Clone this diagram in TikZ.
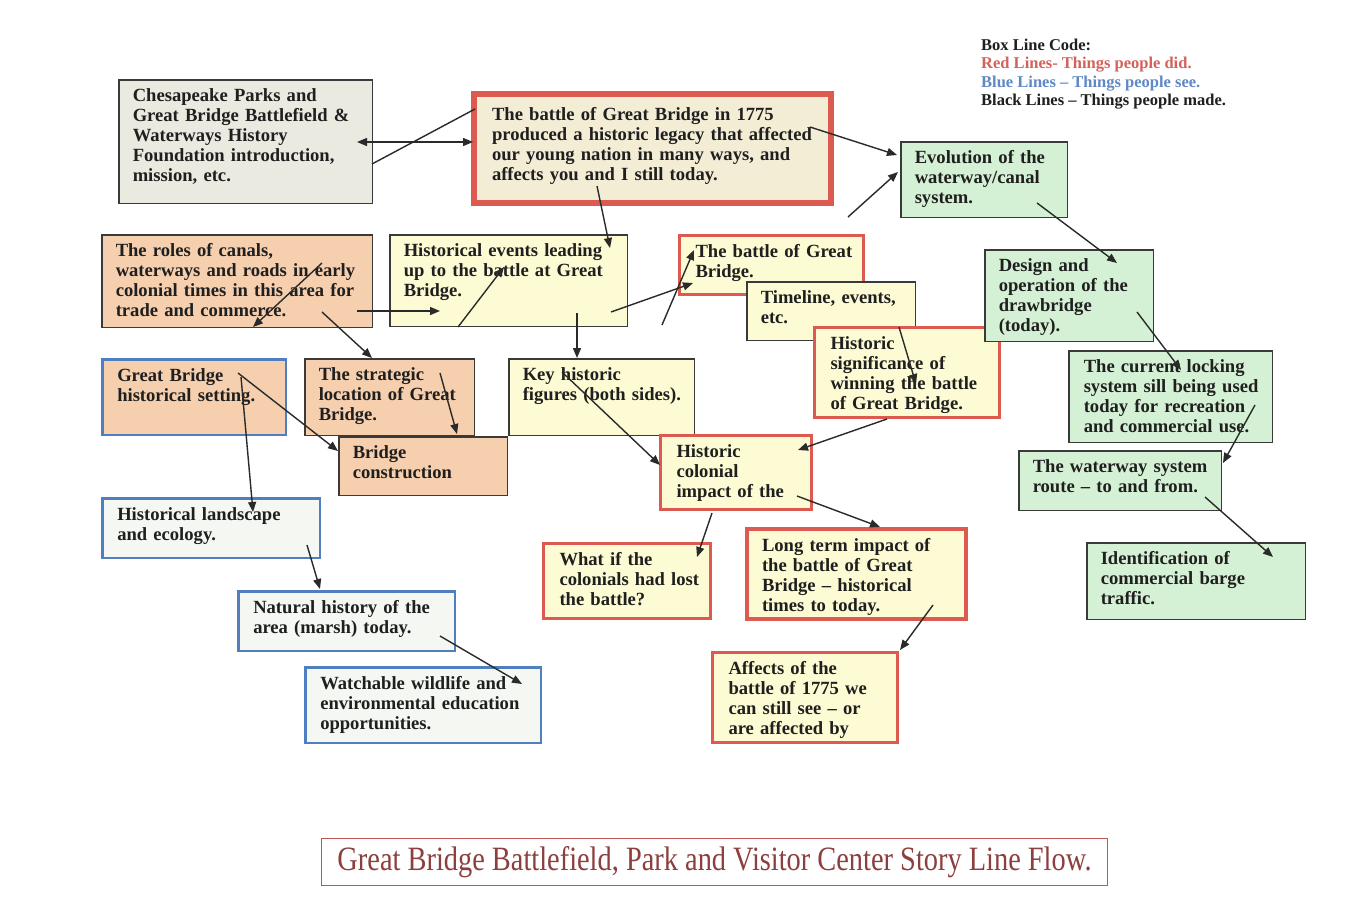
\documentclass[tikz,border=0pt]{standalone}
\usepackage{fontspec}
\setmainfont{Liberation Serif}
\usetikzlibrary{arrows.meta}
\definecolor{grayf}{HTML}{EBEAE0}
\definecolor{beigef}{HTML}{F3EDD6}
\definecolor{yelf}{HTML}{FDFBD3}
\definecolor{oranf}{HTML}{F6CFAE}
\definecolor{greenf}{HTML}{D5F1D5}
\definecolor{paleb}{HTML}{F4F7F2}
\definecolor{blkc}{HTML}{3A3A3A}
\definecolor{redc}{HTML}{DC5A50}
\definecolor{bluc}{HTML}{4F7FC0}
\definecolor{legr}{HTML}{D4625A}
\definecolor{legb}{HTML}{5F88C4}
\definecolor{titc}{HTML}{8C3F3F}
\definecolor{titb}{HTML}{C05555}
\definecolor{arrc}{HTML}{2A2A2A}
\newcommand\bodyfont{\fontsize{18.6}{20}\selectfont\bfseries\color{black!88}}
\tikzset{
  bx/.style n args={3}{anchor=north west, inner xsep=0pt, inner ysep=9pt,
    text height=13pt, align=left, font=\bodyfont, line width=#3pt,
    text width=#1pt-#3pt, text depth=#2pt-#3pt-31pt,
    execute at begin node={\leftskip=14pt}},
  blkbox/.style 2 args={bx={#1}{#2}{1.5}, draw=blkc},
  redbox/.style 2 args={bx={#1}{#2}{3}, draw=redc, execute at begin node={\leftskip=16pt}},
  blubox/.style 2 args={bx={#1}{#2}{2.5}, draw=bluc, execute at begin node={\leftskip=15pt}},
  grnbox/.style 2 args={bx={#1}{#2}{1.5}, draw=blkc, fill=greenf},
  arr/.style={-{Triangle[length=10pt,width=8pt]}, line width=1.4pt, draw=arrc},
  dbl/.style={{Triangle[length=10pt,width=8pt]}-{Triangle[length=10pt,width=8pt]}, line width=1.4pt, draw=arrc},
  ln/.style={line width=1.4pt, draw=arrc},
}
\begin{document}
\begin{tikzpicture}[x=1pt,y=-1pt]
\useasboundingbox (0,0) rectangle (1366,916);
\fill[white] (0,0) rectangle (1366,916);

% legend
\node[anchor=north west, inner sep=0pt, align=left, font=\fontsize{16.5}{18.2}\selectfont\bfseries\color{black!88}] (legend) at (981,39)
 {Box Line Code:\\{\color{legr}Red Lines- Things people did.}\\{\color{legb}Blue Lines – Things people see.}\\Black Lines – Things people made.};

% boxes
\node[blkbox={255}{125}, fill=grayf] (chesa) at (118,79)
 {Chesapeake Parks and\\Great Bridge Battlefield \&\\Waterways History\\Foundation introduction,\\mission, etc.};
\node[bx={363}{115}{6}, draw=redc, fill=beigef, inner ysep=13pt, text depth=70pt,
      execute at begin node={\leftskip=18pt}] (main) at (471,91)
 {The battle of Great Bridge in 1775\\produced a historic legacy that affected\\our young nation in many ways, and\\affects you and I still today.};
\node[grnbox={168}{77}] (evol) at (900,141)
 {Evolution of the\\waterway/canal\\system.};
\node[blkbox={272}{94}, fill=oranf] (roles) at (101,234)
 {The roles of canals,\\waterways and roads in early\\colonial times in this area for\\trade and commerce.};
\node[blkbox={239}{93}, fill=yelf] (hev) at (389,234)
 {Historical events leading\\up to the battle at Great\\Bridge.};
\node[redbox={187}{62}, fill=yelf] (battle) at (678,234)
 {The battle of Great\\Bridge.};
\node[blkbox={170}{60}, fill=yelf] (timeline) at (746,281)
 {Timeline, events,\\etc.};
\node[redbox={188}{93}, fill=yelf] (signif) at (813,326)
 {Historic\\significance of\\winning the battle\\of Great Bridge.};
\node[grnbox={170}{93}] (design) at (984,249)
 {Design and\\operation of the\\drawbridge\\(today).};
\node[grnbox={205}{93}, execute at begin node={\leftskip=15pt}] (locking) at (1068,350)
 {The current locking\\system sill being used\\today for recreation\\and commercial use.};
\node[grnbox={204}{61}] (route) at (1018,450)
 {The waterway system\\route – to and from.};
\node[grnbox={220}{78}] (ident) at (1086,542)
 {Identification of\\commercial barge\\traffic.};
\node[blubox={186}{78}, fill=oranf] (setting) at (101,358)
 {Great Bridge\\historical setting.};
\node[blkbox={171}{78}, fill=oranf] (strat) at (304,358)
 {The strategic\\location of Great\\Bridge.};
\node[blkbox={187}{78}, fill=yelf] (key) at (508,358)
 {Key historic\\figures (both sides).};
\node[blkbox={170}{60}, fill=oranf] (bconst) at (338,436)
 {Bridge\\construction};
\node[blubox={220}{62}, fill=paleb] (landsc) at (101,497)
 {Historical landscape\\and ecology.};
\node[redbox={154}{77}, fill=yelf] (colonial) at (659,434)
 {Historic\\colonial\\impact of the};
\node[redbox={170}{78}, fill=yelf] (whatif) at (542,542)
 {What if the\\colonials had lost\\the battle?};
\node[bx={223}{94}{4}, draw=redc, fill=yelf, execute at begin node={\leftskip=15pt}] (longterm) at (745,527)
 {Long term impact of\\the battle of Great\\Bridge – historical\\times to today.};
\node[blubox={219}{62}, fill=paleb] (natural) at (237,590)
 {Natural history of the\\area (marsh) today.};
\node[blubox={238}{78}, fill=paleb] (watch) at (304,666)
 {Watchable wildlife and\\environmental education\\opportunities.};
\node[redbox={188}{93}, fill=yelf] (affects) at (711,651)
 {Affects of the\\battle of 1775 we\\can still see – or\\are affected by};

% title
\node[draw=titb, line width=1pt, minimum width=786pt, minimum height=47pt, inner sep=0pt,
      font=\fontsize{30}{32}\selectfont\color{titc}] (title) at (714.5,862)
 {\resizebox{754pt}{24pt}{Great Bridge Battlefield, Park and Visitor Center Story Line Flow.}};

% connector end points
\coordinate (a1) at (357,142); \coordinate (a2) at (473,142);
\coordinate (b1) at (372,164); \coordinate (b2) at (475,109);
\coordinate (c1) at (810,127); \coordinate (c2) at (897,155);
\coordinate (d1) at (848,217); \coordinate (d2) at (898,172);
\coordinate (e1) at (1037,203); \coordinate (e2) at (1117,263);
\coordinate (f1) at (1137,312); \coordinate (f2) at (1181,370);
\coordinate (g1) at (1255,405); \coordinate (g2) at (1223,463);
\coordinate (h1) at (1205,497); \coordinate (h2) at (1273,557);
\coordinate (i1) at (597,186); \coordinate (i2) at (610,248);
\coordinate (j1) at (357,311); \coordinate (j2) at (440,311);
\coordinate (k1) at (458,327); \coordinate (k2) at (504,267);
\coordinate (l1) at (322,263); \coordinate (l2) at (253,327);
\coordinate (m1) at (322,312); \coordinate (m2) at (372,358);
\coordinate (n1) at (577,313); \coordinate (n2) at (577,358);
\coordinate (o1) at (611,312); \coordinate (o2) at (693,283);
\coordinate (p1) at (662,325); \coordinate (p2) at (694,250);
\coordinate (q1) at (899,327); \coordinate (q2) at (916,384);
\coordinate (r1) at (887,419); \coordinate (r2) at (798,450);
\coordinate (s1) at (562,372); \coordinate (s2) at (660,465);
\coordinate (t1) at (712,513); \coordinate (t2) at (697,557);
\coordinate (u1) at (797,496); \coordinate (u2) at (880,527);
\coordinate (v1) at (933,605); \coordinate (v2) at (900,650);
\coordinate (w1) at (238,373); \coordinate (w2) at (338,451);
\coordinate (x1) at (241,377); \coordinate (x2) at (253,512);
\coordinate (y1) at (440,373); \coordinate (y2) at (457,434);
\coordinate (z1) at (307,545); \coordinate (z2) at (320,589);
\coordinate (aa1) at (440,636); \coordinate (aa2) at (522,684);

% connectors
\draw[dbl] (a1) -- (a2);
\draw[ln] (b1) -- (b2);
\draw[arr] (c1) -- (c2);
\draw[arr] (d1) -- (d2);
\draw[arr] (e1) -- (e2);
\draw[arr] (f1) -- (f2);
\draw[arr] (g1) -- (g2);
\draw[arr] (h1) -- (h2);
\draw[arr] (i1) -- (i2);
\draw[arr] (j1) -- (j2);
\draw[arr] (k1) -- (k2);
\draw[arr] (l1) -- (l2);
\draw[arr] (m1) -- (m2);
\draw[arr] (n1) -- (n2);
\draw[arr] (o1) -- (o2);
\draw[arr] (p1) -- (p2);
\draw[arr] (q1) -- (q2);
\draw[arr] (r1) -- (r2);
\draw[arr] (s1) -- (s2);
\draw[arr] (t1) -- (t2);
\draw[arr] (u1) -- (u2);
\draw[arr] (v1) -- (v2);
\draw[arr] (w1) -- (w2);
\draw[arr] (x1) -- (x2);
\draw[arr] (y1) -- (y2);
\draw[arr] (z1) -- (z2);
\draw[arr] (aa1) -- (aa2);
\end{tikzpicture}
\end{document}
